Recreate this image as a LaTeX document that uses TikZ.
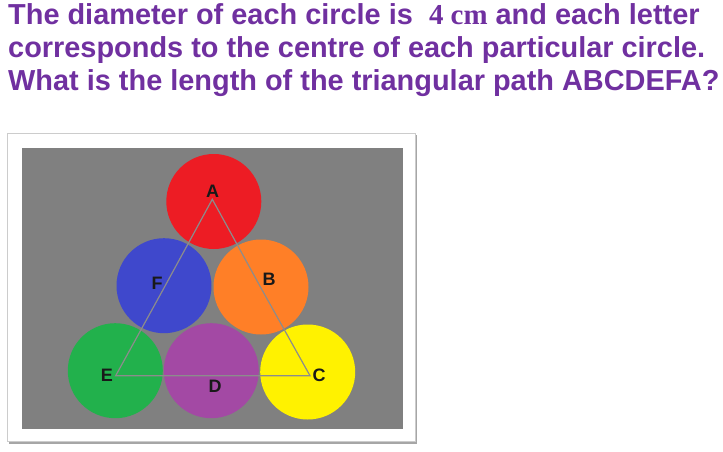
\documentclass[tikz,border=0pt]{standalone}
\usepackage{fontspec}
\setmainfont{Liberation Sans}
\newfontfamily\numfont{Liberation Serif}
\usepackage{tikz}

\definecolor{qpurple}{HTML}{7030A0}
\definecolor{bggray}{HTML}{808080}
\definecolor{cred}{HTML}{ED1C24}
\definecolor{cblue}{HTML}{3F48CC}
\definecolor{corange}{HTML}{FF7F27}
\definecolor{cgreen}{HTML}{22B14C}
\definecolor{cpurple}{HTML}{A349A4}
\definecolor{cyellow}{HTML}{FFF200}

\begin{document}
\begin{tikzpicture}[x=1pt,y=-1pt,
        question/.style={anchor=base west,inner sep=0,text=qpurple,font=\fontsize{28.9}{30}\selectfont\bfseries},
        ball/.style={circle,draw=none,minimum size=95pt,inner sep=0},
        letter/.style={inner sep=0,font=\fontsize{18}{18}\selectfont\bfseries,text=black!90},
        path/.style={draw=black!45,line width=1.2pt}
    ]

    \useasboundingbox (0,0) rectangle (723,452);

    \node[question] (line1) at (8,25) {The diameter of each circle is \ {\numfont 4 cm} and each letter};
    \node[question] (line2) at (8,57.5) {corresponds to the centre of each particular circle.};
    \node[question] (line3) at (8,90) {What is the length of the triangular path ABCDEFA?};

    \fill[black!35] (9,135) rectangle (417,443.5);
    \draw[fill=white,draw=black!20] (7.5,133) rectangle (415,441.5);
    \fill[bggray] (22,147.5) rectangle (402.5,428.5);

    \node[ball,fill=cred] (circA) at (213.8,201.5) {};
    \node[ball,fill=cblue] (circF) at (164,285.7) {};
    \node[ball,fill=corange] (circB) at (261,287) {};
    \node[ball,fill=cgreen] (circE) at (115.3,370.7) {};
    \node[ball,fill=cpurple] (circD) at (211.3,370.7) {};
    \node[ball,fill=cyellow] (circC) at (307.7,372) {};

    \coordinate (A) at (212.3,199.3);
    \coordinate (B) at (261,288);
    \coordinate (C) at (310,375.7);
    \coordinate (D) at (213,375.7);
    \coordinate (E) at (115.7,375.7);
    \coordinate (F) at (164.5,287);

    \draw[path] (A) -- (B) -- (C) -- (D) -- (E) -- (F) -- cycle;

    \node[letter] (labA) at (212.5,191.5) {A};
    \node[letter] (labB) at (269,279) {B};
    \node[letter] (labC) at (319,375) {C};
    \node[letter] (labD) at (215,386.5) {D};
    \node[letter] (labE) at (107,375) {E};
    \node[letter] (labF) at (157,283) {F};

\end{tikzpicture}
\end{document}
